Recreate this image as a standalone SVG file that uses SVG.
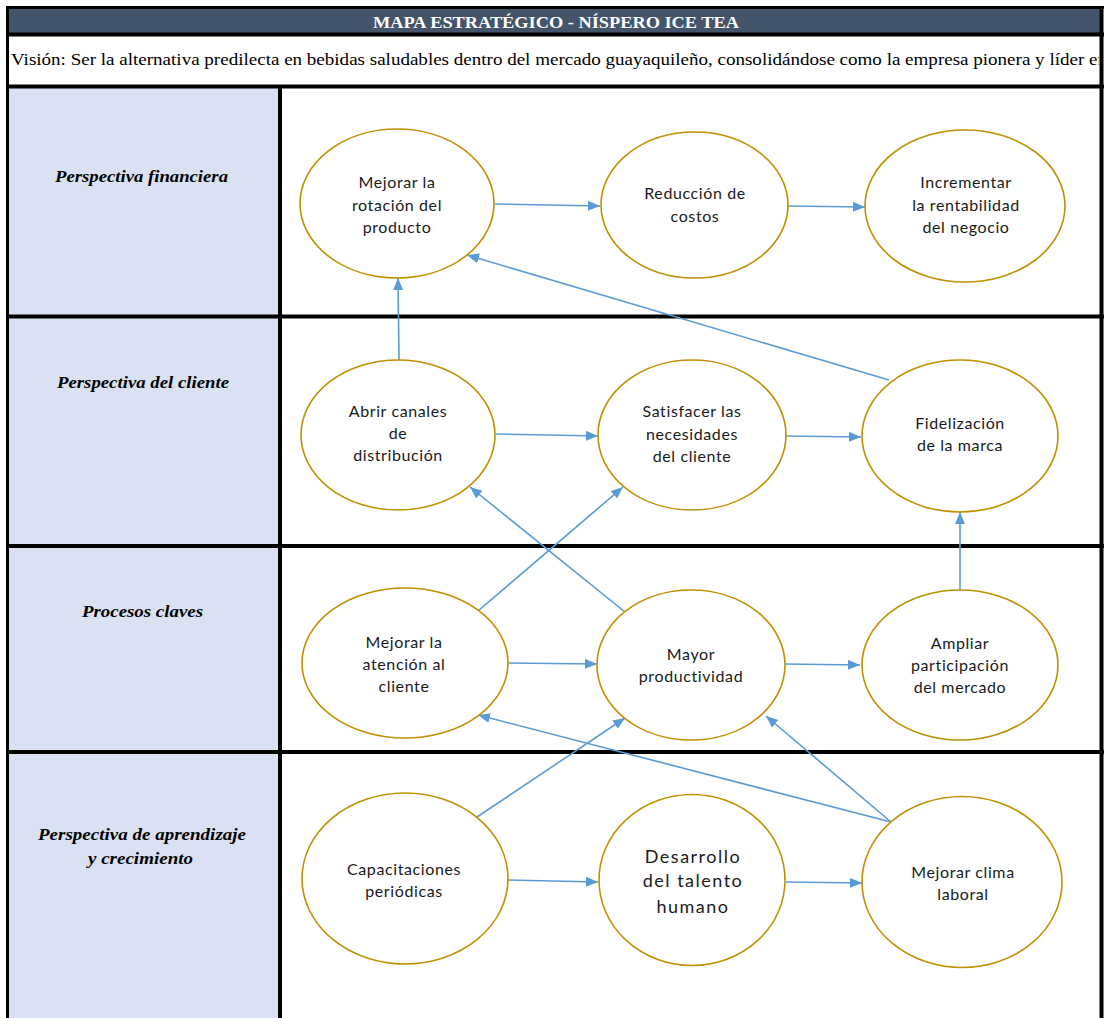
<svg xmlns="http://www.w3.org/2000/svg" width="1107" height="1018" viewBox="0 0 1107 1018">
<style>
.frame{stroke:#000;stroke-width:4;fill:none}
.lbl{font-family:"Liberation Serif","Times New Roman",serif;font-weight:bold;font-style:italic;font-size:17px;fill:#000}
.node ellipse{fill:#fff;stroke:#BF9000;stroke-width:1.6}
.node text{font-family:Lato,"Noto Sans",sans-serif;font-size:16px;letter-spacing:0.6px;fill:#1a1a1a;text-anchor:middle}
.node text.big{font-size:18px;letter-spacing:1.5px}
.conn line{stroke:#5B9BD5;stroke-width:1.6;marker-end:url(#arr)}
</style>
<defs>
<marker id="arr" markerUnits="userSpaceOnUse" markerWidth="13" markerHeight="11" refX="12" refY="5" orient="auto">
<path d="M0,0 L12,5 L0,10 z" fill="#5B9BD5"/>
</marker>
<clipPath id="vclip"><rect x="9" y="36" width="1090" height="48"/></clipPath>
</defs>
<rect x="0" y="0" width="1107" height="1018" fill="#fff"/>
<g id="table">
<rect x="8" y="8" width="1093" height="26" fill="#44546A"/>
<rect x="9" y="88" width="270" height="930" fill="#D9E1F2"/>
<text x="373" y="27.5" font-family="Liberation Serif,Times New Roman,serif" font-weight="bold" font-size="16" fill="#fff" textLength="366" lengthAdjust="spacingAndGlyphs">MAPA ESTRATÉGICO - NÍSPERO ICE TEA</text>
<text x="11" y="65" font-family="Liberation Serif,Times New Roman,serif" font-size="17" fill="#000" clip-path="url(#vclip)" textLength="1096" lengthAdjust="spacingAndGlyphs">Visión: Ser la alternativa predilecta en bebidas saludables dentro del mercado guayaquileño, consolidándose como la empresa pionera y líder en</text>
<g class="frame">
<line x1="6" y1="7.5" x2="1104" y2="7.5" stroke-width="3"/>
<line x1="6" y1="34.5" x2="1104" y2="34.5"/>
<line x1="6" y1="86.5" x2="1104" y2="86.5"/>
<line x1="6" y1="316.5" x2="1104" y2="316.5"/>
<line x1="6" y1="546" x2="1104" y2="546"/>
<line x1="6" y1="752" x2="1104" y2="752"/>
<line x1="7.5" y1="6" x2="7.5" y2="1018" stroke-width="3"/>
<line x1="280" y1="86" x2="280" y2="1018"/>
<line x1="1101.5" y1="6" x2="1101.5" y2="1018"/>
</g>
<text class="lbl" x="55" y="182" textLength="173" lengthAdjust="spacingAndGlyphs">Perspectiva financiera</text>
<text class="lbl" x="57" y="388" textLength="172" lengthAdjust="spacingAndGlyphs">Perspectiva del cliente</text>
<text class="lbl" x="82" y="617" textLength="121" lengthAdjust="spacingAndGlyphs">Procesos claves</text>
<text class="lbl" x="38" y="840" textLength="208" lengthAdjust="spacingAndGlyphs">Perspectiva de aprendizaje</text>
<text class="lbl" x="88" y="864" textLength="105" lengthAdjust="spacingAndGlyphs">y crecimiento</text>
</g>
<g id="connectors" class="conn">
<line x1="495" y1="204" x2="600" y2="206"/>
<line x1="788" y1="206" x2="865" y2="207"/>
<line x1="889" y1="380" x2="467" y2="255"/>
<line x1="399" y1="360" x2="398" y2="278"/>
<line x1="496" y1="434" x2="598" y2="436"/>
<line x1="786" y1="436" x2="861" y2="437"/>
<line x1="960" y1="590" x2="960" y2="512"/>
<line x1="478" y1="611" x2="623" y2="487"/>
<line x1="625" y1="612" x2="470" y2="487"/>
<line x1="508" y1="663" x2="597" y2="664"/>
<line x1="785" y1="664" x2="860" y2="665"/>
<line x1="891" y1="822" x2="478" y2="715"/>
<line x1="477" y1="817" x2="625" y2="718"/>
<line x1="891" y1="822" x2="766" y2="716"/>
<line x1="508" y1="880" x2="598" y2="882"/>
<line x1="786" y1="882" x2="862" y2="883"/>
</g>
<g id="n1" class="node"><ellipse cx="397" cy="203.5" rx="97" ry="74.5"/><text x="397" y="188">Mejorar la</text><text x="397" y="211">rotación del</text><text x="397" y="233">producto</text></g>
<g id="n2" class="node"><ellipse cx="694.5" cy="205" rx="93.5" ry="73"/><text x="695" y="199">Reducción de</text><text x="695" y="222">costos</text></g>
<g id="n3" class="node"><ellipse cx="965" cy="206" rx="100" ry="76"/><text x="966" y="188">Incrementar</text><text x="966" y="211">la rentabilidad</text><text x="966" y="233">del negocio</text></g>
<g id="n4" class="node"><ellipse cx="398" cy="435" rx="97" ry="75"/><text x="398" y="417">Abrir canales</text><text x="398" y="439">de</text><text x="398" y="461">distribución</text></g>
<g id="n5" class="node"><ellipse cx="692" cy="435" rx="94" ry="75"/><text x="692" y="417">Satisfacer las</text><text x="692" y="440">necesidades</text><text x="692" y="462">del cliente</text></g>
<g id="n6" class="node"><ellipse cx="960" cy="436" rx="98" ry="76"/><text x="960" y="429">Fidelización</text><text x="960" y="451">de la marca</text></g>
<g id="n7" class="node"><ellipse cx="405" cy="663" rx="103" ry="75"/><text x="404" y="648">Mejorar la</text><text x="404" y="670">atención al</text><text x="404" y="692">cliente</text></g>
<g id="n8" class="node"><ellipse cx="691" cy="665" rx="94" ry="75"/><text x="691" y="660">Mayor</text><text x="691" y="682">productividad</text></g>
<g id="n9" class="node"><ellipse cx="960" cy="665" rx="98" ry="75"/><text x="960" y="649">Ampliar</text><text x="960" y="671">participación</text><text x="960" y="693">del mercado</text></g>
<g id="n10" class="node"><ellipse cx="405" cy="878.5" rx="103" ry="85.5"/><text x="404" y="875">Capacitaciones</text><text x="404" y="897">periódicas</text></g>
<g id="n11" class="node"><ellipse cx="692" cy="880" rx="93" ry="85.5"/><text class="big" x="693" y="863">Desarrollo</text><text class="big" x="693" y="887">del talento</text><text class="big" x="693" y="913">humano</text></g>
<g id="n12" class="node"><ellipse cx="962" cy="882" rx="100" ry="85.5"/><text x="963" y="878">Mejorar clima</text><text x="963" y="900">laboral</text></g>
</svg>
